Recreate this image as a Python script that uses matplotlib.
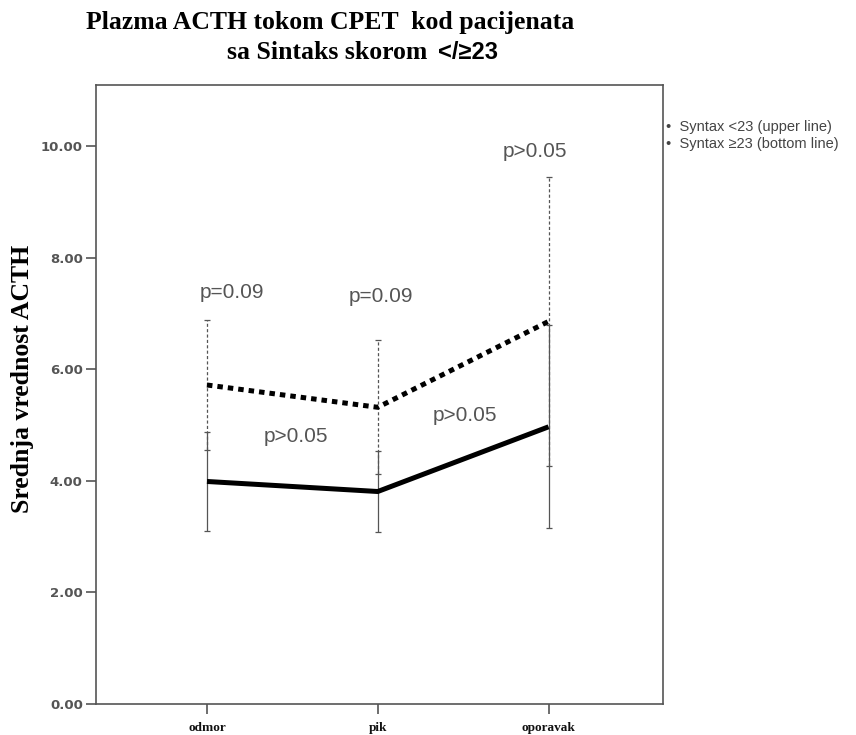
import matplotlib
matplotlib.use("Agg")
import matplotlib.pyplot as plt
import numpy as np

categories = ["odmor", "pik", "oporavak"]
upper_mean = [5.72, 5.32, 6.86]      # Syntax <23 (dotted)
upper_err = [1.16, 1.20, 2.59]
lower_mean = [3.99, 3.81, 4.97]      # Syntax >=23 (solid)
lower_err = [0.89, 0.73, 1.82]
yticks = [0, 2, 4, 6, 8, 10]
p_top = ["p=0.09", "p=0.09", "p>0.05"]
p_mid = ["p>0.05", "p>0.05"]

fig = plt.figure(figsize=(8.56, 7.35), dpi=100)
ax = fig.add_axes([0.1121, 0.0422, 0.6624, 0.8422])
x = np.arange(len(categories))

eb = ax.errorbar(x, upper_mean, yerr=upper_err, fmt="none", ecolor="#555555",
                 elinewidth=0.9, capsize=2, capthick=0.9)
eb[2][0].set_linestyle((0, (2.5, 1.8)))
ax.errorbar(x, lower_mean, yerr=lower_err, fmt="none", ecolor="#555555",
            elinewidth=0.9, capsize=2, capthick=0.9)
ax.plot(x, upper_mean, color="black", lw=3.6, linestyle=(0, (1.1, 1.0)))
ax.plot(x, lower_mean, color="black", lw=3.6, solid_capstyle="butt")

ax.set_xlim(-0.65, 2.67)
ax.set_ylim(0, 11.1)
ax.set_yticks(yticks)
ax.set_yticklabels([f"{v:.2f}" for v in yticks], fontsize=9.5,
                   fontweight="bold", color="#555555", family="DejaVu Sans")
ax.set_xticks(x)
ax.set_xticklabels(categories, fontsize=9.5, fontweight="bold",
                   family="Liberation Serif", color="#111111")
ax.tick_params(axis="both", direction="out", length=7.5, width=1.2,
               color="#555555", pad=2)
ax.tick_params(axis="x", length=7, pad=6)
for s in ax.spines.values():
    s.set_color("#555555")
    s.set_linewidth(1.2)

ax.set_ylabel("Srednja vrednost ACTH", fontsize=18.5, fontweight="bold",
              family="Liberation Serif")
ax.yaxis.set_label_coords(-0.11, 0.525)

# p-value annotations
top_pos = [(0.146, 7.38), (1.02, 7.31), (1.92, 9.9)]
for (px, py), t in zip(top_pos, p_top):
    ax.text(px, py, t, fontsize=15, color="#555555", ha="center", va="center",
            family="Liberation Sans")
mid_pos = [(0.52, 4.79), (1.51, 5.18)]
for (px, py), t in zip(mid_pos, p_mid):
    ax.text(px, py, t, fontsize=15, color="#555555", ha="center", va="center",
            family="Liberation Sans")

fig.text(330 / 856, 1 - 22 / 735, "Plazma ACTH tokom CPET  kod pacijenata",
         ha="center", va="center", fontsize=18.5, fontweight="bold",
         family="Liberation Serif")
fig.text(427 / 856, 1 - 59 / 735, "sa Sintaks skorom", ha="right",
         va="baseline", fontsize=18.5, fontweight="bold", family="Liberation Serif")
fig.text(438 / 856, 1 - 59 / 735, "</≥23", ha="left",
         va="baseline", fontsize=17, fontweight="bold", family="Liberation Sans")

fig.text(666 / 856, 1 - 127 / 735, "•  Syntax <23 (upper line)", fontsize=10.5,
         color="#444444", family="Liberation Sans", va="center")
fig.text(666 / 856, 1 - 144 / 735, "•  Syntax ≥23 (bottom line)", fontsize=10.5,
         color="#444444", family="Liberation Sans", va="center")

fig.savefig("out.png", dpi=100)
